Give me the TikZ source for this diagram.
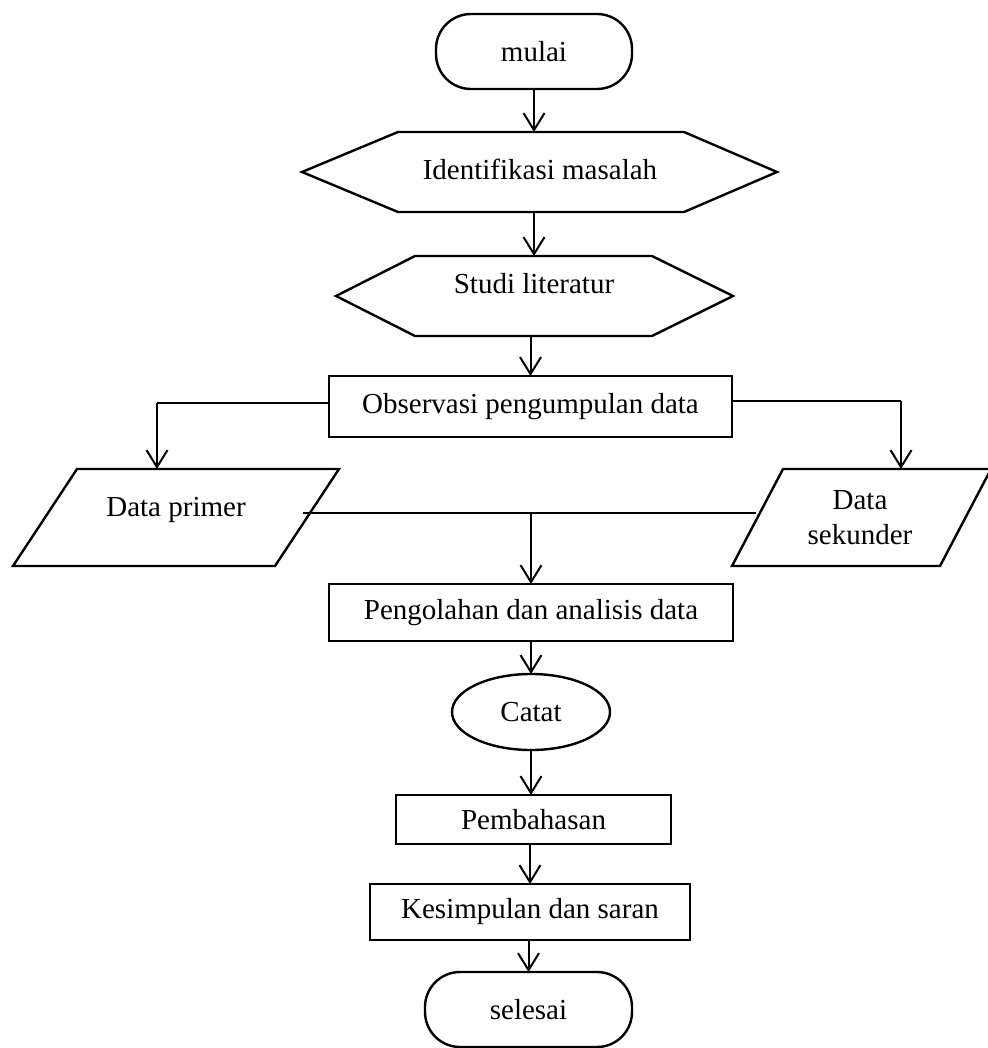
\documentclass[tikz,border=0pt]{standalone}
\usepackage{fontspec}
\setmainfont{Liberation Serif}
\usetikzlibrary{arrows.meta,shapes.geometric}
\begin{document}
\begin{tikzpicture}[x=1pt,y=-1pt,
  font=\fontsize{29}{35}\selectfont,
  shape line/.style={line width=2.4pt, line join=miter},
  thin line/.style={line width=1.3pt},
  box/.style={draw, shape line, inner sep=0pt, outer sep=0pt},
  term/.style={box, rounded corners=35pt},
  oval/.style={box, ellipse},
  frame/.style={draw=none, inner sep=0pt, outer sep=0pt},
  arr/.style={line width=2pt, -{Straight Barb[length=17pt,width=21pt,line width=2pt]}}
]
\useasboundingbox (0,0) rectangle (987,1048);

% terminals, process boxes and the record oval
\node[term, minimum width=196pt, minimum height=75pt] (mulai) at (534,51.5) {mulai};
\node[box, minimum width=403pt, minimum height=61pt] (obs) at (530.5,406.5) {Observasi pengumpulan data};
\node[box, minimum width=404pt, minimum height=57pt] (proc) at (531,612.5) {Pengolahan dan analisis data};
\node[oval, minimum width=158pt, minimum height=76pt] (catat) at (531,712) {Catat};
\node[box, minimum width=275pt, minimum height=49pt] (pemb) at (533.5,819.5) {Pembahasan};
\node[box, minimum width=320pt, minimum height=56pt] (kes) at (530,912) {Kesimpulan dan saran};
\node[term, minimum width=207pt, minimum height=75pt] (selesai) at (528.5,1009.5) {selesai};

% preparation hexagons
\node[frame, minimum width=475pt, minimum height=80pt] (ident) at (539.5,172) {};
\draw[shape line] (ident.west) -- ([xshift=96pt]ident.north west) -- ([xshift=-93pt]ident.north east)
  -- (ident.east) -- ([xshift=-93pt]ident.south east) -- ([xshift=96pt]ident.south west) -- cycle;
\node (identtext) at (540,169) {Identifikasi masalah};

\node[frame, minimum width=397pt, minimum height=80pt] (studi) at (534.5,296) {};
\draw[shape line] (studi.west) -- ([xshift=79pt]studi.north west) -- ([xshift=-81pt]studi.north east)
  -- (studi.east) -- ([xshift=-81pt]studi.south east) -- ([xshift=79pt]studi.south west) -- cycle;
\node (studitext) at (534,284) {Studi literatur};

% data parallelograms
\node[frame, minimum width=326pt, minimum height=97pt] (primer) at (176,517.5) {};
\draw[shape line] ([xshift=64pt]primer.north west) -- (primer.north east)
  -- ([xshift=-64pt]primer.south east) -- (primer.south west) -- cycle;
\node (primertext) at (176,510) {Data primer};

\node[frame, minimum width=259pt, minimum height=97pt] (sek) at (861.5,517.5) {};
\draw[shape line] ([xshift=51pt]sek.north west) -- (sek.north east)
  -- ([xshift=-51pt]sek.south east) -- (sek.south west) -- cycle;
\node[align=center] (sektext) at (860,518) {Data\\sekunder};

% main flow
\draw[arr] (mulai.south) -- (mulai.south |- ident.north);
\draw[arr] (ident.south -| mulai.south) -- (studi.north -| mulai.south);
\draw[arr] (studi.south -| obs.north) -- (obs.north);

% split to both data sources
\coordinate (lt) at (157,403);
\coordinate (rt) at (901,401);
\draw[thin line] (obs.west |- lt) -- (lt);
\draw[arr] (lt) -- (lt |- primer.north);
\draw[thin line] (obs.east |- rt) -- (rt);
\draw[arr] (rt) -- (rt |- sek.north);

% merge of both data sources
\coordinate (ml) at (303,513);
\coordinate (mr) at (756,513);
\coordinate (mj) at (531,513);
\draw[thin line] (ml) -- (mr);
\draw[arr] (mj) -- (mj |- proc.north);

\draw[arr] (proc.south -| catat.north) -- (catat.north);
\draw[arr] (catat.south) -- (catat.south |- pemb.north);
\draw[arr] (pemb.south -| kes.north) -- (kes.north);
\draw[arr] (kes.south -| selesai.north) -- (selesai.north);
\end{tikzpicture}
\end{document}
